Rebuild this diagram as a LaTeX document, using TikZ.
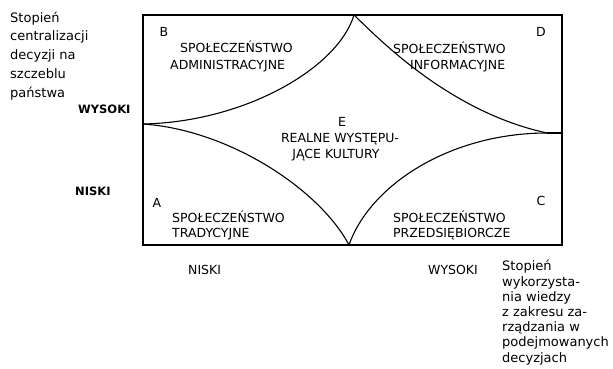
\documentclass[tikz,border=0pt]{standalone}
\usepackage{fontspec}
\setmainfont{DejaVu Sans}
\begin{document}
\begin{tikzpicture}[x=1pt,y=-1pt,
  frame/.style={line width=1.3pt},
  curve/.style={line width=1.1pt},
  lbl/.style={font=\fontsize{12.5}{14}\selectfont, inner sep=0pt, anchor=base west},
  cornerlbl/.style={font=\fontsize{12.5}{14}\selectfont, inner sep=0pt, anchor=base},
  axlbl/.style={font=\fontsize{12.5}{14}\selectfont, inner sep=0pt, anchor=base west},
  axbold/.style={font=\fontsize{11.5}{14}\bfseries\selectfont, inner sep=0pt, anchor=base west},
  block/.style={font=\fontsize{13}{18.75}\selectfont, inner sep=0pt, anchor=base west, align=left}]
\path[use as bounding box] (0,0) rectangle (613,369);
% frame
\coordinate (nw) at (143,15);
\coordinate (se) at (562,245);
\draw[frame] (nw) rectangle (se);
% star points
\coordinate (L) at (143,124);
\coordinate (T) at (354,15);
\coordinate (R) at (547,133);
\coordinate (Re) at (562,133);
\coordinate (Bt) at (349,245);
\draw[curve] (L) .. controls (245,122) and (338,68) .. (T);
\draw[curve] (T) .. controls (380,40) and (450,112) .. (R);
\draw[curve] (L) .. controls (230,130) and (320,190) .. (Bt);
\draw[curve] (Bt) .. controls (370,185) and (450,133) .. (R);
\draw[curve] (R) -- (Re);
% corner letters
\node[cornerlbl] (lB) at (164,37) {B};
\node[cornerlbl] (lD) at (541,37) {D};
\node[cornerlbl] (lA) at (157,207) {A};
\node[cornerlbl] (lC) at (541,205) {C};
\node[cornerlbl] (lE) at (342,126) {E};
% quadrant labels
\node[lbl] (b1) at (180,53) {SPOŁECZEŃSTWO};
\node[lbl] (b2) at (170,70) {ADMINISTRACYJNE};
\node[lbl] (d1) at (393,54) {SPOŁECZEŃSTWO};
\node[lbl] (d2) at (410,70) {INFORMACYJNE};
\node[lbl] (a1) at (172,222) {SPOŁECZEŃSTWO};
\node[lbl] (a2) at (172,237) {TRADYCYJNE};
\node[lbl] (c1) at (393,222) {SPOŁECZEŃSTWO};
\node[lbl] (c2) at (393,237) {PRZEDSIĘBIORCZE};
\node[cornerlbl] (e1) at (340,142) {REALNE WYSTĘPU-};
\node[cornerlbl] (e2) at (336,158) {JĄCE KULTURY};
% axis labels (anchored at the baseline of the last line)
\node[block] (yax) at (10,97) {Stopień\\centralizacji\\decyzji na\\szczeblu\\państwa};
\node[axbold] (yhi) at (78,113) {WYSOKI};
\node[axbold] (ylo) at (75,195) {NISKI};
\node[axlbl] (xlo) at (188,274) {NISKI};
\node[axlbl] (xhi) at (428,274) {WYSOKI};
\node[block, font=\fontsize{13}{15.2}\selectfont] (xax) at (502,362) {Stopień\\wykorzysta-\\nia wiedzy\\z zakresu za-\\rządzania w\\podejmowanych\\decyzjach};
\end{tikzpicture}
\end{document}
